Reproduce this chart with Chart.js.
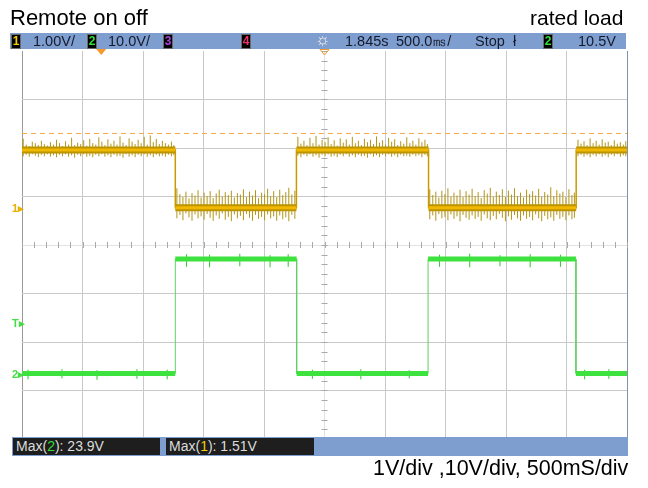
<!DOCTYPE html>
<html>
<head>
<meta charset="utf-8">
<script src="https://cdn.jsdelivr.net/npm/chart.js@4.4.0/dist/chart.umd.min.js"></script>
<style>
body { margin:0; background:#fff; font-family:"Liberation Sans", Arial, sans-serif; }
#wrap { position:relative; width:648px; height:488px; overflow:hidden; }
#scope { position:absolute; left:0; top:0; }
.abs { position:absolute; white-space:nowrap; }
#title { left:10px; top:5px; font-size:22px; color:#000; }
#load { left:530px; top:6px; font-size:21px; color:#000; }
#footer { left:373px; top:456px; font-size:21.5px; color:#000; }
#topbar { left:10px; top:33px; width:616px; height:16px; background:#7f9ed0; font-size:14.5px; color:#141a2a; line-height:16px; }
#botbar { left:12px; top:437px; width:616px; height:19px; background:#7f9ed0; }
.chip { position:absolute; top:1px; width:8px; height:13px; background:#000; border:1px solid #6a6a6a; font-size:12px; font-weight:bold; text-align:center; line-height:13px; }
.box { position:absolute; top:1px; height:17px; background:#1e1e1e; color:#dcdcdc; font-size:14px; line-height:17px; padding-left:3px; box-sizing:border-box; }
.mark { position:absolute; font-size:11px; font-weight:bold; line-height:12px; }
</style>
</head>
<body>
<div id="wrap">
  <canvas id="scope" width="648" height="488"></canvas>
  <div class="abs" id="title">Remote on off</div>
  <div class="abs" id="load">rated load</div>
  <div class="abs" id="topbar">
    <span class="chip" style="left:1px;color:#f2d000">1</span>
    <span class="abs" style="left:23px">1.00V/</span>
    <span class="chip" style="left:77px;color:#33dd33">2</span>
    <span class="abs" style="left:98px">10.0V/</span>
    <span class="chip" style="left:153px;color:#b040e0">3</span>
    <span class="chip" style="left:231px;color:#f0306a">4</span>
    <span class="abs" style="left:305px;top:-1px;font-size:17px;color:#f6f0e4">☼</span>
    <span class="abs" style="left:335px">1.845s</span>
    <span class="abs" style="left:386px">500.0㎳/</span>
    <span class="abs" style="left:465px">Stop</span>
    <span class="abs" style="left:503px">ł</span>
    <span class="chip" style="left:533px;color:#33dd33">2</span>
    <span class="abs" style="left:568px">10.5V</span>
  </div>
  <div class="abs" id="botbar">
    <div class="box" style="left:1px;width:147px">Max(<span style="color:#33dd33">2</span>): 23.9V</div>
    <div class="box" style="left:154px;width:148px">Max(<span style="color:#f2d000">1</span>): 1.51V</div>
  </div>
  <div class="mark" id="m1" style="left:12px;color:#e8b000">1▸</div>
  <div class="mark" id="mT" style="left:12px;color:#44dd44">T▸</div>
  <div class="mark" id="m2" style="left:12px;color:#44dd44">2▸</div>
  <div class="abs" id="footer">1V/div ,10V/div, 500mS/div</div>
</div>
<script>
// time in s (500 ms/div, 10 div), ch1 in V (1 V/div), ch2 in V (10 V/div)
const ch1Time = [0, 1.267, 1.267, 2.268, 2.268, 3.36, 3.36, 4.58, 4.58, 5];
const ch1Volt = [1.19, 1.19, 0, 0, 1.19, 1.19, 0, 0, 1.19, 1.19];
const ch2Time = [0, 1.267, 1.267, 2.27, 2.27, 3.356, 3.356, 4.578, 4.578, 5];
const ch2Volt = [0, 0, 23.6, 23.6, 0, 0, 23.6, 23.6, 0, 0];
const ch1Level = 1.53;   // dashed orange line
const trigLevel = 10.5;  // ch2 trigger
const trigTime = 0.655;  // filled orange marker at top

// noise: [time, upper tip, lower tip]
const ch1Noise = [
  [0.010,1.42,1.06],[0.035,1.30,1.09],[0.060,1.27,1.05],[0.085,1.36,1.10],[0.110,1.33,1.07],
  [0.135,1.29,1.04],[0.160,1.38,1.09],[0.185,1.31,1.06],[0.210,1.28,1.10],[0.235,1.35,1.05],
  [0.260,1.30,1.08],[0.285,1.40,1.04],[0.310,1.33,1.09],[0.335,1.27,1.06],[0.360,1.37,1.10],
  [0.385,1.30,1.05],[0.410,1.44,1.08],[0.435,1.29,1.03],[0.460,1.34,1.09],[0.485,1.31,1.06],
  [0.510,1.39,1.10],[0.535,1.28,1.05],[0.560,1.42,1.07],[0.585,1.33,1.04],[0.610,1.30,1.09],
  [0.635,1.45,1.06],[0.660,1.36,1.10],[0.685,1.29,1.05],[0.710,1.41,1.08],[0.735,1.32,1.04],
  [0.760,1.38,1.09],[0.785,1.30,1.06],[0.810,1.47,1.07],[0.835,1.34,1.03],[0.860,1.29,1.10],
  [0.885,1.43,1.05],[0.910,1.36,1.08],[0.935,1.31,1.04],[0.960,1.40,1.09],[0.985,1.33,1.06],
  [1.010,1.46,1.10],[1.035,1.30,1.05],[1.060,1.49,1.08],[1.085,1.35,1.04],[1.110,1.42,1.09],
  [1.135,1.31,1.06],[1.160,1.38,1.07],[1.185,1.33,1.05],[1.210,1.30,1.09],[1.235,1.36,1.06],
  [1.255,1.29,1.08],
  [1.280,0.40,-0.22],[1.305,0.28,-0.15],[1.330,0.22,-0.26],[1.355,0.33,-0.12],[1.380,0.19,-0.20],
  [1.405,0.30,-0.27],[1.430,0.25,-0.14],[1.455,0.36,-0.22],[1.480,0.21,-0.18],[1.505,0.31,-0.25],
  [1.530,0.24,-0.13],[1.555,0.34,-0.21],[1.580,0.20,-0.27],[1.605,0.29,-0.16],[1.630,0.37,-0.23],
  [1.655,0.23,-0.12],[1.680,0.32,-0.25],[1.705,0.26,-0.19],[1.730,0.35,-0.28],[1.755,0.21,-0.14],
  [1.780,0.30,-0.22],[1.805,0.27,-0.17],[1.830,0.38,-0.26],[1.855,0.22,-0.13],[1.880,0.33,-0.21],
  [1.905,0.25,-0.27],[1.930,0.36,-0.15],[1.955,0.20,-0.23],[1.980,0.31,-0.19],[2.005,0.28,-0.26],
  [2.030,0.39,-0.14],[2.055,0.24,-0.22],[2.080,0.34,-0.18],[2.105,0.22,-0.27],[2.130,0.37,-0.16],
  [2.155,0.26,-0.24],[2.180,0.32,-0.20],[2.205,0.41,-0.28],[2.230,0.27,-0.15],[2.255,0.35,-0.23],
  [2.280,1.46,1.07],[2.305,1.32,1.04],[2.330,1.38,1.09],[2.355,1.29,1.06],[2.380,1.44,1.10],
  [2.405,1.33,1.05],[2.430,1.48,1.08],[2.455,1.30,1.03],[2.480,1.40,1.09],[2.505,1.35,1.06],
  [2.530,1.45,1.10],[2.555,1.31,1.05],[2.580,1.39,1.07],[2.605,1.28,1.04],[2.630,1.43,1.09],
  [2.655,1.34,1.06],[2.680,1.41,1.10],[2.705,1.30,1.05],[2.730,1.46,1.08],[2.755,1.33,1.04],
  [2.780,1.38,1.09],[2.805,1.29,1.06],[2.830,1.42,1.07],[2.855,1.35,1.03],[2.880,1.40,1.10],
  [2.905,1.31,1.05],[2.930,1.47,1.08],[2.955,1.34,1.04],[2.980,1.39,1.09],[3.005,1.30,1.06],
  [3.030,1.44,1.10],[3.055,1.36,1.05],[3.080,1.41,1.08],[3.105,1.29,1.04],[3.130,1.37,1.09],
  [3.155,1.32,1.06],[3.180,1.45,1.07],[3.205,1.33,1.05],[3.230,1.38,1.09],[3.255,1.30,1.06],
  [3.280,1.43,1.08],[3.305,1.35,1.04],[3.330,1.40,1.09],[3.350,1.31,1.06],
  [3.370,0.38,-0.24],[3.395,0.26,-0.16],[3.420,0.33,-0.27],[3.445,0.21,-0.13],[3.470,0.35,-0.22],
  [3.495,0.28,-0.19],[3.520,0.40,-0.26],[3.545,0.23,-0.14],[3.570,0.31,-0.23],[3.595,0.25,-0.18],
  [3.620,0.37,-0.28],[3.645,0.22,-0.15],[3.670,0.34,-0.21],[3.695,0.27,-0.25],[3.720,0.39,-0.16],
  [3.745,0.24,-0.23],[3.770,0.32,-0.19],[3.795,0.20,-0.27],[3.820,0.36,-0.14],[3.845,0.29,-0.22],
  [3.870,0.41,-0.26],[3.895,0.23,-0.17],[3.920,0.33,-0.24],[3.945,0.26,-0.13],[3.970,0.38,-0.21],
  [3.995,0.22,-0.28],[4.020,0.35,-0.18],[4.045,0.27,-0.25],[4.070,0.40,-0.15],[4.095,0.24,-0.22],
  [4.120,0.31,-0.27],[4.145,0.21,-0.16],[4.170,0.37,-0.23],[4.195,0.28,-0.19],[4.220,0.34,-0.26],
  [4.245,0.25,-0.14],[4.270,0.39,-0.22],[4.295,0.23,-0.28],[4.320,0.32,-0.17],[4.345,0.27,-0.24],
  [4.370,0.42,-0.20],[4.395,0.24,-0.27],[4.420,0.36,-0.15],[4.445,0.29,-0.23],[4.470,0.33,-0.19],
  [4.495,0.22,-0.26],[4.520,0.38,-0.16],[4.545,0.26,-0.24],[4.565,0.31,-0.21],
  [4.595,1.40,1.06],[4.620,1.32,1.09],[4.645,1.37,1.05],[4.670,1.29,1.08],[4.695,1.43,1.04],
  [4.720,1.33,1.09],[4.745,1.38,1.06],[4.770,1.30,1.10],[4.795,1.41,1.05],[4.820,1.34,1.08],
  [4.845,1.36,1.04],[4.870,1.29,1.09],[4.895,1.39,1.06],[4.920,1.32,1.10],[4.945,1.35,1.05],
  [4.970,1.30,1.08],[4.990,1.37,1.06]
];
// small ticks on the ch2 trace: [time, upper tip, lower tip]
const ch2Noise = [
  [0.05,0.8,-1.2],[0.33,0.9,-1.0],[0.62,0.7,-1.3],[0.95,0.9,-1.1],[1.20,0.8,-1.2],
  [1.36,24.6,22.0],[1.55,24.5,21.9],[1.80,24.7,22.1],[2.05,24.4,21.9],[2.20,24.6,22.0],
  [2.40,0.8,-1.1],[2.80,0.9,-1.2],[3.20,0.7,-1.0],
  [3.45,24.5,22.0],[3.70,24.7,21.9],[3.95,24.4,22.1],[4.20,24.6,21.9],[4.45,24.5,22.0],
  [4.65,0.8,-1.2],[4.85,0.9,-1.1]
];

function toPoints(ts, vs) {
  return ts.map((t, i) => ({x: t, y: vs[i]}));
}
function levelSegments(ts, vs) {
  let pts = [];
  for (let i = 0; i < ts.length - 1; i++) {
    if (vs[i] === vs[i + 1]) {
      pts.push({x: ts[i], y: vs[i]}, {x: ts[i + 1], y: vs[i + 1]}, {x: ts[i + 1], y: null});
    }
  }
  return pts;
}
function noisePoints(noise) {
  let pts = [];
  noise.forEach(([t, hi, lo]) => {
    pts.push({x: t, y: lo}, {x: t, y: hi}, {x: t, y: null});
  });
  return pts;
}

const line = (data, axis, color, width, order, extra) => Object.assign({
  data: data, yAxisID: axis, showLine: true, borderColor: color, borderWidth: width,
  pointRadius: 0, spanGaps: false, order: order, borderCapStyle: 'butt'
}, extra || {});

const scopeMarks = {
  id: 'scopeMarks',
  beforeDatasetsDraw(chart) {
    const {ctx, scales: {x, yg}} = chart;
    const cx = x.getPixelForValue(2.5), cy = yg.getPixelForValue(0);
    ctx.save();
    ctx.strokeStyle = '#a9a9a9';
    ctx.lineWidth = 1;
    ctx.beginPath();
    for (let v = -4; v <= 4.001; v += 0.2) {
      let py = Math.round(yg.getPixelForValue(v)) + 0.5;
      ctx.moveTo(cx - 3, py); ctx.lineTo(cx + 3, py);
    }
    for (let t = 0; t <= 5.001; t += 0.1) {
      let px = Math.round(x.getPixelForValue(t)) + 0.5;
      ctx.moveTo(px, cy - 3); ctx.lineTo(px, cy + 3);
    }
    ctx.stroke();
    ctx.restore();
  },
  afterDraw(chart) {
    const {ctx, chartArea, scales: {x}} = chart;
    const top = chartArea.top - 2;
    ctx.save();
    let tx = x.getPixelForValue(trigTime);
    ctx.fillStyle = '#f39a2a';
    ctx.beginPath();
    ctx.moveTo(tx - 5, top); ctx.lineTo(tx + 5, top); ctx.lineTo(tx, top + 6); ctx.closePath();
    ctx.fill();
    let hx = x.getPixelForValue(2.5);
    ctx.strokeStyle = '#f39a2a';
    ctx.beginPath();
    ctx.moveTo(hx - 4.5, top + 0.5); ctx.lineTo(hx + 4.5, top + 0.5); ctx.lineTo(hx, top + 6); ctx.closePath();
    ctx.stroke();
    ctx.restore();
  }
};

const gridColor = (edge) => (c) => {
  if (c.tick.value === edge[0]) return edge[1];
  if (c.tick.value === edge[2]) return edge[3];
  if (c.tick.value === edge[4]) return '#e2e2e2';
  return '#c9c9c9';
};

const chart = new Chart(document.getElementById('scope'), {
  type: 'scatter',
  data: {
    datasets: [
      line([{x: 0, y: ch1Level}, {x: 5, y: ch1Level}], 'y1', '#f5a742', 1, 10, {borderDash: [5, 4]}),
      line(noisePoints(ch1Noise), 'y1', '#b39416', 1, 6),
      line(toPoints(ch1Time, ch1Volt), 'y1', '#c99a00', 1.5, 5),
      line(levelSegments(ch1Time, ch1Volt), 'y1', '#bb9400', 7, 4),
      line(levelSegments(ch1Time, ch1Volt), 'y1', '#f2b800', 3, 3),
      line(noisePoints(ch2Noise), 'y2', '#35c435', 1, 2.5),
      line(toPoints(ch2Time, ch2Volt), 'y2', '#62cf62', 1, 2),
      line(levelSegments(ch2Time, ch2Volt), 'y2', '#3ee23e', 5, 1)
    ]
  },
  options: {
    responsive: false,
    animation: false,
    layout: {padding: {left: 22, top: 51, right: 21, bottom: 49}},
    plugins: {legend: {display: false}, tooltip: {enabled: false}},
    scales: {
      x: {
        type: 'linear', min: 0, max: 5,
        ticks: {display: false, stepSize: 0.5},
        grid: {drawTicks: false, color: gridColor([0, '#9a9a9a', 5, '#8290ac', 2.5])},
        border: {display: false}
      },
      yg: {
        type: 'linear', position: 'left', min: -4, max: 4,
        ticks: {display: false, stepSize: 1},
        grid: {drawTicks: false, color: gridColor([4, 'rgba(0,0,0,0)', -4, '#c9c9c9', 0])},
        border: {display: false}
      },
      y1: {display: false, min: -4.77, max: 3.23},
      y2: {display: false, min: -13.5, max: 66.5}
    }
  },
  plugins: [scopeMarks]
});

// ground / trigger markers on the left edge
const place = (id, axis, v) => {
  document.getElementById(id).style.top = (chart.scales[axis].getPixelForValue(v) - 6) + 'px';
};
place('m1', 'y1', 0);
place('mT', 'y2', trigLevel);
place('m2', 'y2', 0);
</script>
</body>
</html>
